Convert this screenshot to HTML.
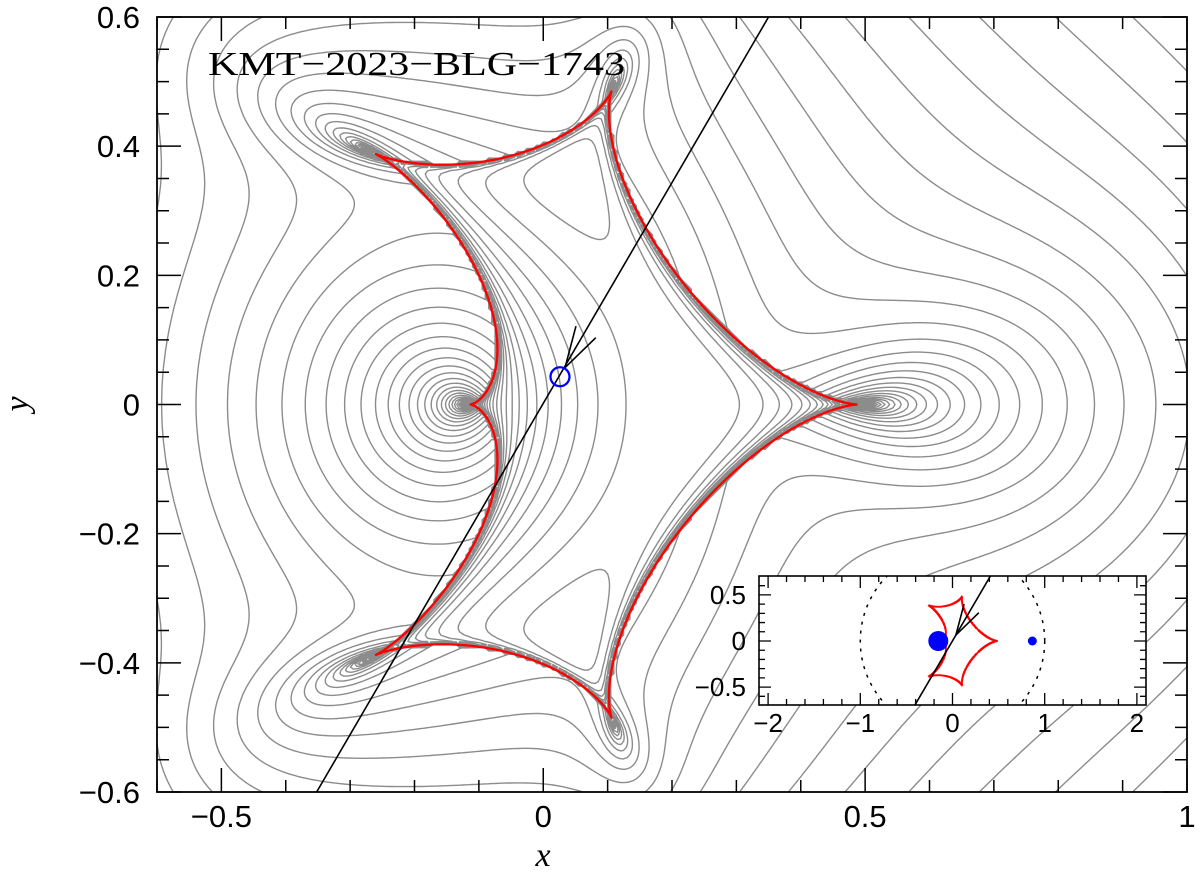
<!DOCTYPE html>
<html><head><meta charset="utf-8">
<style>
html,body{margin:0;padding:0;background:#fff;}
svg{display:block;}
</style></head>
<body>
<svg id="chart" xmlns="http://www.w3.org/2000/svg" width="1200" height="878" viewBox="0 0 1200 878">
<defs>
<clipPath id="mainClip"><rect x="157" y="17" width="1030" height="775"/></clipPath>
<clipPath id="insetClip"><rect x="759" y="576" width="387" height="129"/></clipPath>
</defs>
<rect x="0" y="0" width="1200" height="878" fill="#fff"/>
<g id="contours" clip-path="url(#mainClip)"></g>
<g id="mainOver" clip-path="url(#mainClip)"></g>
<g id="axes"></g>
<text x="208" y="75" font-family="'Liberation Serif', serif" font-size="34" textLength="417" lengthAdjust="spacingAndGlyphs" fill="#000">KMT−2023−BLG−1743</text>
<g id="inset"></g>
</svg>
<script>
// ---- model data ----
// target caustic features: [width, top-cusp y, top-cusp x - xmin, y at xmin, left on-axis cusp x - xmin]
const causticTargets = [0.74, 0.48, 0.36, 0.39, 0.14];
const causticLeftX = [-0.26];
const trajStart = [-0.352, -0.6];
const trajEnd = [0.35, 0.6];
const sourcePos = [0.026, 0.043];
const contourStepDex = [0.068];
const xTickLabels = ["−0.5", "0", "0.5", "1"];
const xTickValues = [-0.5, 0, 0.5, 1];
const yTickLabels = ["−0.6", "−0.4", "−0.2", "0", "0.2", "0.4", "0.6"];
const yTickValues = [-0.6, -0.4, -0.2, 0, 0.2, 0.4, 0.6];
const insetXTickValues = [-2, -1, 0, 1, 2];
const insetXTickLabels = ["−2", "−1", "0", "1", "2"];
const insetYTickValues = [-0.5, 0, 0.5];
const insetYTickLabels = ["−0.5", "0", "0.5"];

const NS = "http://www.w3.org/2000/svg";
const X0=-0.6, X1=1.0, Y0=-0.6, Y1=0.6;
const PL=157, PR=1187, PT=17, PB=792;
const sx = v => PL + (v-X0)/(X1-X0)*(PR-PL);
const sy = v => PB - (v-Y0)/(Y1-Y0)*(PB-PT);
const IL=759, IR=1146, IT=576, IB=705;
const ix = v => 952.5 + v*92.2;
const iy = v => 641 - v*92.2;

function el(tag, attrs, parent){const e=document.createElementNS(NS,tag);for(const k in attrs)e.setAttribute(k,attrs[k]);parent.appendChild(e);return e;}
function padd(a,b){const n=Math.max(a.length,b.length),r=[];for(let i=0;i<n;i++){const x=a[i]||[0,0],y=b[i]||[0,0];r.push([x[0]+y[0],x[1]+y[1]]);}return r;}
function pmul(a,b){const r=[];for(let i=0;i<a.length+b.length-1;i++)r.push([0,0]);for(let i=0;i<a.length;i++)for(let j=0;j<b.length;j++){r[i+j][0]+=a[i][0]*b[j][0]-a[i][1]*b[j][1];r[i+j][1]+=a[i][0]*b[j][1]+a[i][1]*b[j][0];}return r;}
function pscale(a,c){return a.map(x=>[x[0]*c[0]-x[1]*c[1],x[0]*c[1]+x[1]*c[0]]);}

const cr=new Float64Array(6), ci=new Float64Array(6);
function loadMonic(P){const n=P.length-1;const lr=P[n][0],li=P[n][1],d=lr*lr+li*li;for(let j=0;j<=n;j++){cr[j]=(P[j][0]*lr+P[j][1]*li)/d;ci[j]=(P[j][1]*lr-P[j][0]*li)/d;}return n;}
function dk(n,rr,ri,maxIt){
  for(let it=0;it<maxIt;it++){
    let maxd=0;
    for(let k=0;k<n;k++){
      const xr=rr[k],xi=ri[k];let pr=1,pi=0;
      for(let j=n-1;j>=0;j--){const t=pr*xr-pi*xi+cr[j];pi=pr*xi+pi*xr+ci[j];pr=t;}
      let qr=1,qi=0;
      for(let j=0;j<n;j++){if(j===k)continue;const dr=xr-rr[j],di=xi-ri[j];const t=qr*dr-qi*di;qi=qr*di+qi*dr;qr=t;}
      const den=qr*qr+qi*qi;if(den<1e-300){rr[k]+=1e-7;continue;}
      const sr=(pr*qr+pi*qi)/den,si=(pi*qr-pr*qi)/den;
      rr[k]=xr-sr;ri[k]=xi-si;const d=Math.abs(sr)+Math.abs(si);if(d>maxd)maxd=d;
    }
    if(maxd<1e-13)return true;
  }
  return false;
}
function freshStart(n,rr,ri){for(let k=0;k<n;k++){const a=2*Math.PI*k/n+0.4;rr[k]=1.3*Math.cos(a);ri[k]=1.3*Math.sin(a);}}

function causticTracks(m1,m2,z1,z2,nphi){
  const tr=[[],[],[],[]];
  const r4=new Float64Array(4), i4=new Float64Array(4);
  freshStart(4,r4,i4);
  const a1=pmul([[-z2,0],[1,0]],[[-z2,0],[1,0]]), a2=pmul([[-z1,0],[1,0]],[[-z1,0],[1,0]]);
  const base=padd(pscale(a1,[m1,0]),pscale(a2,[m2,0])), prod=pmul(a2,a1);
  for(let k=0;k<=nphi;k++){
    const ph=2*Math.PI*k/nphi;
    loadMonic(padd(base,pscale(prod,[-Math.cos(ph),-Math.sin(ph)])));
    if(!dk(4,r4,i4,100))dk(4,r4,i4,500);
    for(let r=0;r<4;r++){
      const xr=r4[r],xb=-i4[r];
      const d1r=xr-z1,d2r=xr-z2,n1=d1r*d1r+xb*xb,n2=d2r*d2r+xb*xb;
      tr[r].push([xr-m1*d1r/n1-m2*d2r/n2, i4[r]+m1*xb/n1+m2*xb/n2]);
    }
  }
  return tr;
}
function features(tr){
  let xmin=1e9,xmax=-1e9,ymax=-1e9,xAtYmax=0,yAtXmin=0,leftCusp=1e9;
  for(const t of tr)for(const p of t){
    if(!isFinite(p[0])||!isFinite(p[1]))continue;
    if(p[0]<xmin){xmin=p[0];yAtXmin=Math.abs(p[1]);}
    if(p[0]>xmax)xmax=p[0];
    if(p[1]>ymax){ymax=p[1];xAtYmax=p[0];}
    if(Math.abs(p[1])<0.01&&p[0]<leftCusp)leftCusp=p[0];
  }
  return {f:[xmax-xmin,ymax,xAtYmax-xmin,yAtXmin,leftCusp-xmin],xmin};
}
function cfg(s,q){const m1=1/(1+q),m2=q/(1+q);return {m1,m2,z1:-s*q/(1+q),z2:s/(1+q)};}
let best={err:1e9,s:1.1,q:0.2};
for(let s=0.9;s<=1.4;s+=0.02)for(let q=0.06;q<=0.6;q+=0.02){
  const c=cfg(s,q);const F=features(causticTracks(c.m1,c.m2,c.z1,c.z2,240)).f;
  let e=0;for(let k=0;k<5;k++)e+=(F[k]-causticTargets[k])**2;
  if(e<best.err)best={err:e,s,q};
}
const s0=best.s,q0=best.q;
for(let s=s0-0.02;s<=s0+0.02;s+=0.004)for(let q=Math.max(0.02,q0-0.02);q<=q0+0.02;q+=0.004){
  const c=cfg(s,q);const F=features(causticTracks(c.m1,c.m2,c.z1,c.z2,400)).f;
  let e=0;for(let k=0;k<5;k++)e+=(F[k]-causticTargets[k])**2;
  if(e<best.err)best={err:e,s,q};
}
const C0=cfg(best.s,best.q);
const m1=C0.m1,m2=C0.m2;
const causRaw=causticTracks(m1,m2,C0.z1,C0.z2,3000);
const shift=causticLeftX[0]-features(causRaw).xmin;
const z1=C0.z1+shift, z2=C0.z2+shift;
const caus=causRaw.map(t=>t.map(p=>[p[0]+shift,p[1]]));

const D=[[z1*z2,0],[-(z1+z2),0],[1,0]];
const L1=[[-z2*m1,0],[m1,0]], L2=[[-z1*m2,0],[m2,0]];
function imagePoly(zr,zi){
  const N=padd(pscale(D,[zr,-zi]),padd(L1,L2));
  const A=padd(N,pscale(D,[-z1,0])), B=padd(N,pscale(D,[-z2,0]));
  const ZZ=[[zr,zi],[-1,0]];
  return padd(pmul(pmul(ZZ,A),B),padd(pscale(pmul(D,B),[m1,0]),pscale(pmul(D,A),[m2,0])));
}
function magnif(zr,zi,rr,ri){
  let mu=0;
  for(let k=0;k<5;k++){
    const xr=rr[k],xb=-ri[k];
    const d1r=xr-z1,d1i=xb,d2r=xr-z2,d2i=xb;
    const n1=d1r*d1r+d1i*d1i,n2=d2r*d2r+d2i*d2i;
    const a1r=m1*d1r/n1,a1i=-m1*d1i/n1,a2r=m2*d2r/n2,a2i=-m2*d2i/n2;
    const er=xr-a1r-a2r-zr, ei=ri[k]-a1i-a2i-zi;
    if(Math.abs(er)+Math.abs(ei)>1e-5)continue;
    const f1r=(d1r*d1r-d1i*d1i)/(n1*n1),f1i=-2*d1r*d1i/(n1*n1);
    const f2r=(d2r*d2r-d2i*d2i)/(n2*n2),f2i=-2*d2r*d2i/(n2*n2);
    const fr=m1*f1r+m2*f2r,fi=m1*f1i+m2*f2i;
    const det=1-(fr*fr+fi*fi);
    mu+=1/Math.max(Math.abs(det),1e-9);
  }
  return mu;
}

const NX=321, NY=243;
const field=new Float64Array(NX*NY);
const rr=new Float64Array(5), ri=new Float64Array(5);
freshStart(5,rr,ri);
for(let j=0;j<NY;j++){
  const y=Y0+(Y1-Y0)*j/(NY-1);
  for(let c=0;c<NX;c++){
    const i=(j%2===0)?c:NX-1-c;
    const x=X0+(X1-X0)*i/(NX-1);
    loadMonic(imagePoly(x,y));
    if(!dk(5,rr,ri,80)){freshStart(5,rr,ri);dk(5,rr,ri,400);}
    let mu=magnif(x,y,rr,ri);
    if(!(mu>0.5)){freshStart(5,rr,ri);dk(5,rr,ri,400);mu=magnif(x,y,rr,ri);}
    field[j*NX+i]=Math.log10(Math.max(mu-1,1e-4));
  }
}
const dl=contourStepDex[0];
let pathD=[];
function interp(ax,ay,av,bx,by,bv,l){const t=(l-av)/(bv-av);return [ax+(bx-ax)*t,ay+(by-ay)*t];}
for(let j=0;j<NY-1;j++){
  const ya=sy(Y0+(Y1-Y0)*j/(NY-1)), yb=sy(Y0+(Y1-Y0)*(j+1)/(NY-1));
  for(let i=0;i<NX-1;i++){
    const xa=sx(X0+(X1-X0)*i/(NX-1)), xb=sx(X0+(X1-X0)*(i+1)/(NX-1));
    const v0=field[j*NX+i],v1=field[j*NX+i+1],v2=field[(j+1)*NX+i+1],v3=field[(j+1)*NX+i];
    const mn=Math.min(v0,v1,v2,v3),mx=Math.max(v0,v1,v2,v3);
    for(let k=Math.ceil(mn/dl);k*dl<mx;k++){
      const l=k*dl; if(l<=mn)continue;
      const pts=[];
      if((v0<l)!==(v1<l))pts.push(interp(xa,ya,v0,xb,ya,v1,l));
      if((v1<l)!==(v2<l))pts.push(interp(xb,ya,v1,xb,yb,v2,l));
      if((v2<l)!==(v3<l))pts.push(interp(xb,yb,v2,xa,yb,v3,l));
      if((v3<l)!==(v0<l))pts.push(interp(xa,yb,v3,xa,ya,v0,l));
      for(let p=0;p+1<pts.length;p+=2)pathD.push("M"+pts[p][0].toFixed(1)+" "+pts[p][1].toFixed(1)+"L"+pts[p+1][0].toFixed(1)+" "+pts[p+1][1].toFixed(1));
    }
  }
}
const cont=document.getElementById("contours");
const cp=el("path",{d:pathD.join(""),fill:"none",stroke:"#8c8c8c","stroke-width":"1.4","stroke-linecap":"round"},cont);



function polyline(pts,fx,fy){let d="";let prev=null;for(const p of pts){if(!isFinite(p[0])||!isFinite(p[1]))continue;const X=fx(p[0]),Y=fy(p[1]);if(prev&&Math.hypot(X-prev[0],Y-prev[1])>40)d+="M";else d+=(d?"L":"M");d+=X.toFixed(1)+" "+Y.toFixed(1);prev=[X,Y];}return d;}
const over=document.getElementById("mainOver");
for(let r=0;r<4;r++){
  const c=el("path",{d:polyline(caus[r],sx,sy),fill:"none",stroke:"#ff0000","stroke-width":"2.3","stroke-linejoin":"round"},over);
  
  
}
const tr=el("line",{x1:sx(trajStart[0]),y1:sy(trajStart[1]),x2:sx(trajEnd[0]),y2:sy(trajEnd[1]),stroke:"#000","stroke-width":"1.6"},over);


function arrow(g,tx,ty,len,w){
  const dx=sx(trajEnd[0])-sx(trajStart[0]),dy=sy(trajEnd[1])-sy(trajStart[1]);
  const ang=Math.atan2(dy,dx);
  for(const da of [-0.27,0.27]){
    const a=el("line",{x1:tx,y1:ty,x2:tx+len*Math.cos(ang+da),y2:ty+len*Math.sin(ang+da),stroke:"#000","stroke-width":w},g);
    
    
  }
}
arrow(over,sx(sourcePos[0])+5,sy(sourcePos[1])-9,43,1.6);
const sc=el("circle",{cx:sx(sourcePos[0]),cy:sy(sourcePos[1]),r:9.5,fill:"none",stroke:"#0000ff","stroke-width":"2.3"},over);



const ax=document.getElementById("axes");
const fr=el("rect",{x:PL,y:PT,width:PR-PL,height:PB-PT,fill:"none",stroke:"#000","stroke-width":"1.8"},ax);


let td="";
for(let k=-6;k<=10;k++){const v=k/10,X=sx(v),L=(k%5===0)?24:12;td+=`M${X} ${PB}V${PB-L}M${X} ${PT}V${PT+L}`;}
for(let k=-12;k<=12;k++){const v=k*0.05,Y=sy(v),L=(k%4===0)?24:12;td+=`M${PL} ${Y}H${PL+L}M${PR} ${Y}H${PR-L}`;}
const tp=el("path",{d:td,stroke:"#000","stroke-width":"1.5",fill:"none"},ax);


xTickValues.forEach((v,i)=>{const t=el("text",{x:sx(v),y:827,"text-anchor":"middle","font-family":"'Liberation Sans',sans-serif","font-size":"31",fill:"#000"},ax);t.textContent=xTickLabels[i];

});
yTickValues.forEach((v,i)=>{const t=el("text",{x:140,y:sy(v)+11,"text-anchor":"end","font-family":"'Liberation Sans',sans-serif","font-size":"31",fill:"#000"},ax);t.textContent=yTickLabels[i];

});
const xl=el("text",{x:543,y:866,"text-anchor":"middle","font-family":"'Liberation Serif',serif","font-style":"italic","font-size":"34",fill:"#000"},ax);xl.textContent="x";


const yl=el("text",{x:0,y:0,transform:"translate(28,404) rotate(-90)","text-anchor":"middle","font-family":"'Liberation Serif',serif","font-style":"italic","font-size":"34",fill:"#000"},ax);yl.textContent="y";



const ins=document.getElementById("inset");
const ib=el("rect",{x:IL,y:IT,width:IR-IL,height:IB-IT,fill:"#fff",stroke:"none"},ins);


const ig=el("g",{"clip-path":"url(#insetClip)"},ins);


const ring=el("ellipse",{cx:ix(0),cy:iy(0),rx:92.2,ry:92.2,fill:"none",stroke:"#000","stroke-width":"1.5","stroke-dasharray":"3 6"},ig);


for(let r=0;r<4;r++){
  const c=el("path",{d:polyline(caus[r],ix,iy),fill:"none",stroke:"#ff0000","stroke-width":"1.8"},ig);
  
  
}
const dxt=trajEnd[0]-trajStart[0],dyt=trajEnd[1]-trajStart[1];
const itr=el("line",{x1:ix(trajStart[0]-dxt),y1:iy(trajStart[1]-dyt),x2:ix(trajEnd[0]+dxt),y2:iy(trajEnd[1]+dyt),stroke:"#000","stroke-width":"1.6"},ig);


arrow(ig,ix(sourcePos[0])+1,iy(sourcePos[1])-2,32,1.6);
const L1d=el("circle",{cx:ix(z1),cy:iy(0),r:10,fill:"#0000ff"},ig);


const L2d=el("circle",{cx:ix(z2),cy:iy(0),r:4.5,fill:"#0000ff"},ig);


const ifr=el("rect",{x:IL,y:IT,width:IR-IL,height:IB-IT,fill:"none",stroke:"#000","stroke-width":"1.6"},ins);


let itd="";
for(let k=-10;k<=10;k++){const X=ix(k*0.2),L=(k%5===0)?12:6;itd+=`M${X} ${IB}V${IB-L}M${X} ${IT}V${IT+L}`;}
for(let k=-6;k<=6;k++){const Y=iy(k*0.1),L=(k%5===0)?12:6;itd+=`M${IL} ${Y}H${IL+L}M${IR} ${Y}H${IR-L}`;}
const itp=el("path",{d:itd,stroke:"#000","stroke-width":"1.3",fill:"none"},ins);


insetXTickValues.forEach((v,i)=>{const t=el("text",{x:ix(v),y:732,"text-anchor":"middle","font-family":"'Liberation Sans',sans-serif","font-size":"26",fill:"#000"},ins);t.textContent=insetXTickLabels[i];

});
insetYTickValues.forEach((v,i)=>{const t=el("text",{x:746,y:iy(v)+9,"text-anchor":"end","font-family":"'Liberation Sans',sans-serif","font-size":"26",fill:"#000"},ins);t.textContent=insetYTickLabels[i];

});
</script>
</body></html>
